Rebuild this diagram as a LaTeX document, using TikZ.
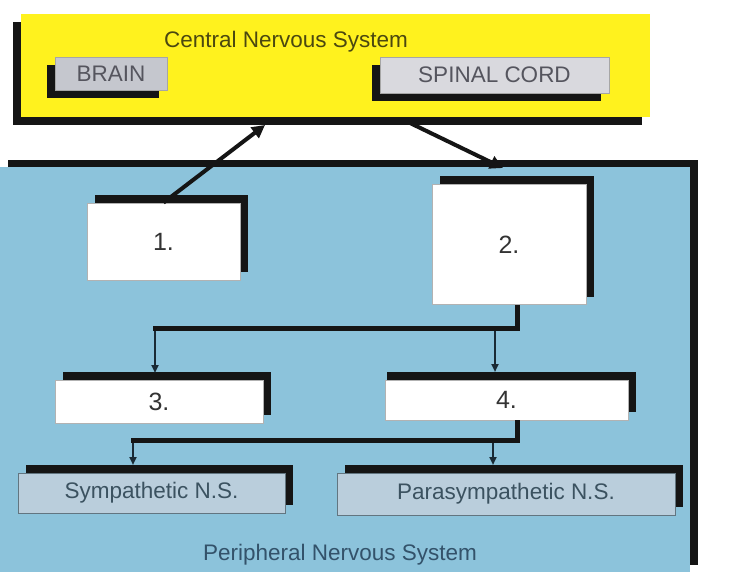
\documentclass[tikz,border=0pt]{standalone}
\usepackage{fontspec}
\setmainfont{Liberation Sans}
\usetikzlibrary{shadows,arrows.meta}
\definecolor{yellowc}{HTML}{FFF21E}
\definecolor{bluec}{HTML}{8CC3DB}
\definecolor{shadowc}{HTML}{151515}
\definecolor{braingray}{HTML}{C5C7CE}
\definecolor{spinalgray}{HTML}{D9D9DE}
\definecolor{nsfill}{HTML}{BACEDC}
\definecolor{cnstext}{HTML}{4B4810}
\definecolor{graytext}{HTML}{55555E}
\definecolor{nstext}{HTML}{3B5260}
\definecolor{pnstext}{HTML}{33526A}
\definecolor{droptc}{HTML}{1A2A35}
\begin{document}
\begin{tikzpicture}[x=1pt,y=-1pt,
  base/.style={rectangle, inner sep=0pt, font=\fontsize{22.5}{27}\selectfont},
  shUR/.style={drop shadow={shadow xshift=8pt, shadow yshift=8pt, fill=shadowc, opacity=1}},
  shDL/.style={drop shadow={shadow xshift=-8pt, shadow yshift=-8pt, fill=shadowc, opacity=1}},
  cnsbox/.style={base, fill=yellowc, shDL},
  pnsbox/.style={base, fill=bluec, drop shadow={shadow xshift=8pt, shadow yshift=7pt, fill=shadowc, opacity=1}},
  partbox/.style={base, draw=gray!70, line width=0.8pt, text=graytext, shDL},
  numbox/.style={base, fill=white, draw=gray!60, line width=0.8pt, text=black!80, font=\fontsize{25}{30}\selectfont, shUR},
  nsbox/.style={base, fill=nsfill, draw=nstext!80, line width=1pt, text=nstext, shUR},
  bigarrow/.style={draw=shadowc, line width=4pt, -{Triangle[length=13pt,width=13pt]}},
  bus/.style={draw=shadowc, line width=5pt, line join=miter},
  drop/.style={draw=droptc, line width=2pt, -{Triangle[length=8pt,width=7pt]}},
  title/.style={base, anchor=base}
]
\useasboundingbox (0,0) rectangle (750,572);
\fill[white] (0,0) rectangle (750,572);

% Central nervous system
\node[cnsbox, minimum width=629pt, minimum height=103pt] (cns) at (335.5,65.5) {};
\node[title, text=cnstext] (cnslabel) at (286,48) {Central Nervous System};
\node[partbox, fill=braingray, minimum width=112pt, minimum height=33pt] (brain) at (111,73.5) {BRAIN};
\node[partbox, fill=spinalgray, minimum width=229pt, minimum height=36pt] (spinal) at (494.5,75) {SPINAL CORD};

% Peripheral nervous system
\node[pnsbox, minimum width=690pt, minimum height=405pt] (pns) at (345,369.5) {};
\node[title, text=pnstext] (pnslabel) at (340,560) {Peripheral Nervous System};

% connector points
\coordinate (t1) at (265,125);
\coordinate (s2) at (410,123);
\coordinate (t2) at (503,168);
\coordinate (b1) at (517,328);
\coordinate (h3) at (155,328);
\coordinate (h4) at (495,328);
\coordinate (t3) at (155,373);
\coordinate (t4) at (495,372);
\coordinate (b2) at (517,440);
\coordinate (h5) at (133,440);
\coordinate (h6) at (493,440);
\coordinate (t5) at (133,465);
\coordinate (t6) at (493,465);

% boxes
\node[numbox, minimum width=153pt, minimum height=77pt] (n1) at (163.5,241.5) {1.};
\node[numbox, minimum width=154pt, minimum height=120pt] (n2) at (509,244.5) {2.};
\node[numbox, minimum width=208pt, minimum height=43pt] (n3) at (159,401.5) {3.};
\node[numbox, minimum width=243pt, minimum height=40pt,
  drop shadow={shadow xshift=2pt, shadow yshift=8pt, fill=shadowc, opacity=1}] (n4) at (506.5,400) {4.};
\node[nsbox, minimum width=267pt, minimum height=40pt] (symp) at (151.5,493) {Sympathetic N.S.};
\node[nsbox, minimum width=338pt, minimum height=42pt] (para) at (506,494) {Parasympathetic N.S.};

% connectors
\draw[bigarrow] (n1.north) -- (t1);
\draw[bigarrow] (s2) -- (t2);

\draw[drop] (h3) -- (t3);
\draw[drop] (h4) -- (t4);
\draw[bus] (n2.south -| b1) -- (b1) -- ([xshift=-2.5pt]h3);

\draw[drop] (h5) -- (t5);
\draw[drop] (h6) -- (t6);
\draw[bus] (n4.south -| b2) -- (b2) -- ([xshift=-2.5pt]h5);
\end{tikzpicture}
\end{document}
